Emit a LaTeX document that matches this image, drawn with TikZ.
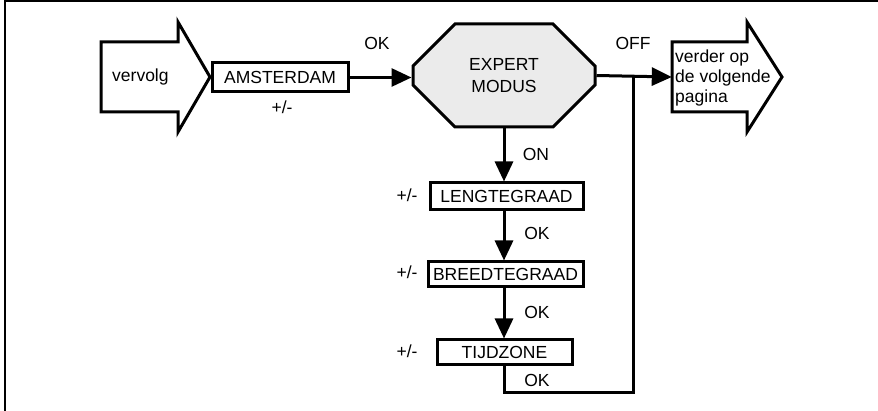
\documentclass[tikz,border=0pt]{standalone}
\usepackage{fontspec}
\setmainfont{Liberation Sans}
\usetikzlibrary{arrows.meta,shapes.misc}
\begin{document}
\begin{tikzpicture}[x=1pt,y=-1pt,
  txt/.style={font=\fontsize{17.5}{20}\selectfont, inner sep=0pt},
  box/.style={txt, draw, line width=3pt, minimum height=26pt},
  bigarrow/.style={draw, line width=3pt, line join=miter},
  conn/.style={line width=3pt, -{Triangle[length=20pt,width=18pt]}},
  plain/.style={line width=3pt}]
\useasboundingbox (0,0) rectangle (878,411);
% frame
\draw[line width=2pt] (4.5,411) -- (4.5,1) -- (878,1);
% left big arrow
\draw[bigarrow] (101,42) -- (178,42) -- (178,22) -- (210,77) -- (178,132) -- (178,112) -- (101,112) -- cycle;
\node[txt, anchor=west] (vervolg) at (112,77) {vervolg};
% AMSTERDAM
\node[box, minimum width=136pt, minimum height=29pt] (ams) at (280,77.5) {AMSTERDAM};
\node[txt] (pmA) at (282,107) {+/-};
% expert modus
\node[txt, chamfered rectangle, chamfered rectangle xsep=31pt, chamfered rectangle ysep=25pt,
  draw, line width=3pt, fill=black!8, minimum width=182pt, minimum height=103pt,
  align=center, font=\fontsize{17.5}{22}\selectfont] (em) at (504,75.5) {EXPERT\\MODUS};
\node[txt] (okA) at (377,43) {OK};
\node[txt] (off) at (633,43) {OFF};
% right big arrow
\node[minimum width=75pt, minimum height=70pt, inner sep=0pt] (nextp) at (709.5,77) {};
\draw[bigarrow] (672,42) -- (747,42) -- (747,22) -- (782,77) -- (747,132) -- (747,112) -- (672,112) -- cycle;
\node[txt, anchor=west, align=left, font=\fontsize{17.5}{20}\selectfont] (nptxt) at (675,78) {verder op\\de volgende\\pagina};
% vertical chain
\node[box, minimum width=153pt, minimum height=27pt] (leng) at (506.5,196.5) {LENGTEGRAAD};
\node[box, minimum width=155pt, minimum height=25pt] (breed) at (505.5,274.5) {BREEDTEGRAAD};
\node[box, minimum width=135pt, minimum height=25pt] (tijd) at (504.5,352.5) {TIJDZONE};
\node[txt] (pmL) at (407,195) {+/-};
\node[txt] (pmB) at (407,272) {+/-};
\node[txt] (pmT) at (407,351) {+/-};
\node[txt] (on) at (536,154) {ON};
\node[txt] (ok1) at (537,233) {OK};
\node[txt] (ok2) at (537,312) {OK};
\node[txt] (ok3) at (537,380) {OK};
% connectors
\draw[conn] (ams.east) -- (em.west |- ams.east);
\draw[conn] (em.east) -- (nextp.west);
\draw[conn] (em.south) -- (em.south |- leng.north);
\draw[conn] (leng.south -| em.south) -- (em.south |- breed.north);
\draw[conn] (breed.south -| em.south) -- (em.south |- tijd.north);
\coordinate (lp) at (633,393);
\coordinate (jn) at (633,77);
\draw[plain, line join=miter] (tijd.south) |- (lp) -- (jn);
\end{tikzpicture}
\end{document}
